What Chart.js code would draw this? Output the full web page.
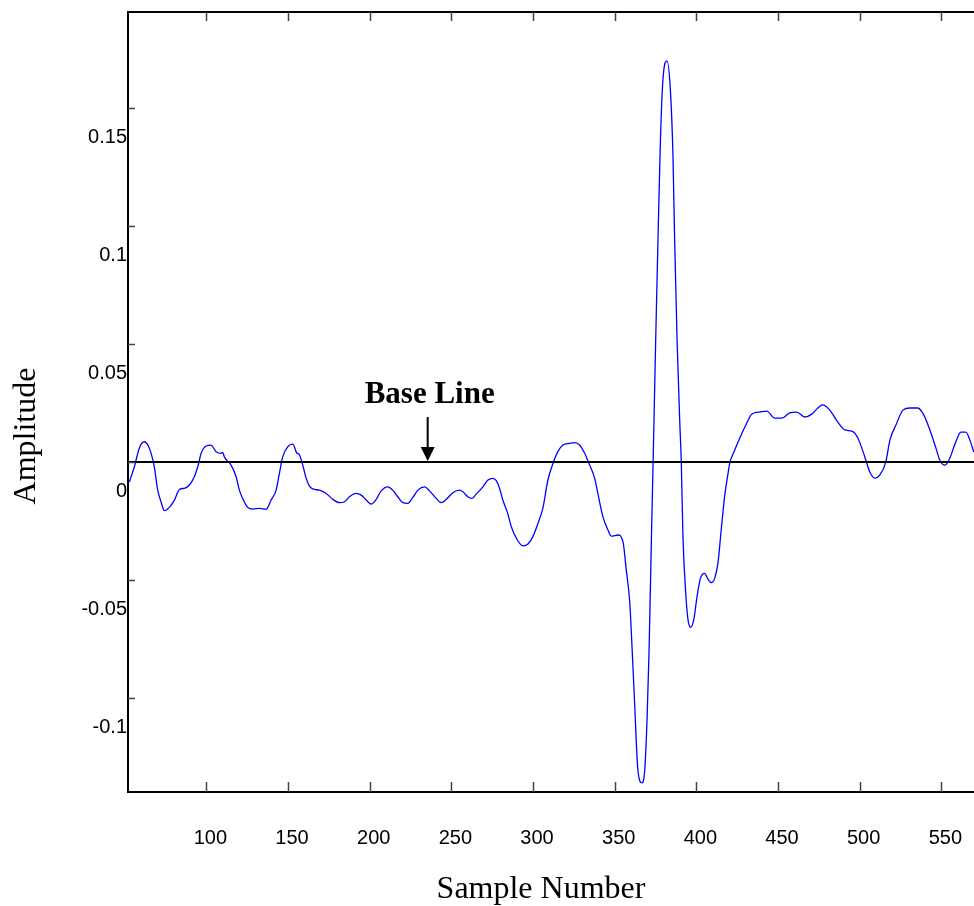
<!DOCTYPE html>
<html>
<head>
<meta charset="utf-8">
<script src="https://cdn.jsdelivr.net/npm/chart.js@4.4.0/dist/chart.umd.min.js"></script>
<style>
  html, body { margin: 0; padding: 0; background: #fff; }
  canvas { display: block; }
</style>
</head>
<body>
<canvas id="myChart" width="974" height="906"></canvas>
<script>
// values
const sampleNumber = [52.8,55.9,58.9,62.0,65.1,68.1,70.2,72.2,74.3,77.3,
  80.4,83.5,86.5,89.6,92.6,94.7,96.8,99.8,102.9,105.9,
  109.0,110.0,111.0,115.1,118.2,120.2,122.2,125.3,128.4,132.5,
  136.6,139.6,142.7,144.7,146.7,149.8,152.9,155.3,157.0,159.0,
  161.1,163.1,165.1,169.2,173.3,177.4,181.5,184.6,187.6,191.7,
  194.8,197.8,200.9,204.0,207.0,211.1,214.1,217.2,220.3,223.3,
  226.4,229.5,233.6,236.6,240.7,243.8,246.9,250.9,255.0,257.0,
  260.1,262.6,265.2,269.3,272.4,275.4,277.5,279.5,281.5,284.2,
  286.7,289.8,293.8,296.9,299.9,303.0,306.0,309.1,312.2,315.2,
  318.3,322.4,325.5,328.5,331.6,334.7,337.7,339.7,342.8,345.9,
  348.0,352.0,355.1,357.1,359.2,360.8,362.2,364.2,366.7,368.4,
  369.8,371.0,372.5,373.5,375.1,376.5,378.0,379.6,382.0,384.1,
  385.7,386.7,388.2,389.8,390.8,391.8,393.5,394.9,396.5,398.4,
  400.4,402.5,405.1,407.2,409.2,411.2,413.2,415.4,417.4,419.4,
  420.4,423.5,426.6,430.3,433.9,438.8,443.1,448.0,452.3,457.1,
  461.5,466.4,470.7,474.4,477.4,481.7,486.6,490.9,495.2,498.9,
  501.3,503.8,506.2,509.3,512.3,516.0,518.5,522.2,526.5,530.7,
  535.6,539.3,543.0,546.7,549.1,552.2,555.2,558.3,562.0,565.0,
  567.5,569.9];

const amplitude = [-0.0085,-0.0020,0.0059,0.0086,0.0058,-0.0020,-0.0119,-0.0168,-0.0206,-0.0192,
  -0.0161,-0.0116,-0.0111,-0.0097,-0.0062,-0.0020,0.0037,0.0068,0.0072,0.0044,
  0.0037,0.0041,0.0022,-0.0013,-0.0062,-0.0119,-0.0154,-0.0192,-0.0199,-0.0196,
  -0.0200,-0.0161,-0.0119,-0.0048,0.0022,0.0065,0.0076,0.0039,0.0030,-0.0013,
  -0.0069,-0.0102,-0.0114,-0.0119,-0.0133,-0.0158,-0.0172,-0.0168,-0.0147,-0.0133,
  -0.0140,-0.0161,-0.0178,-0.0158,-0.0122,-0.0105,-0.0119,-0.0147,-0.0172,-0.0175,
  -0.0150,-0.0119,-0.0105,-0.0122,-0.0154,-0.0172,-0.0158,-0.0130,-0.0119,-0.0126,
  -0.0147,-0.0154,-0.0136,-0.0105,-0.0076,-0.0069,-0.0079,-0.0111,-0.0161,-0.0211,
  -0.0274,-0.0323,-0.0355,-0.0347,-0.0316,-0.0260,-0.0196,-0.0076,-0.0006,0.0044,
  0.0072,0.0079,0.0082,0.0072,0.0037,-0.0013,-0.0068,-0.0133,-0.0232,-0.0288,
  -0.0314,-0.0309,-0.0338,-0.0458,-0.0592,-0.0811,-0.1022,-0.1305,-0.1359,-0.1305,
  -0.1093,-0.0811,-0.0317,-0.0006,0.0517,0.0941,0.1364,0.1626,0.1700,0.1576,
  0.1294,0.0941,0.0517,0.0178,-0.0006,-0.0317,-0.0556,-0.0669,-0.0700,-0.0669,
  -0.0571,-0.0493,-0.0472,-0.0497,-0.0511,-0.0493,-0.0429,-0.0274,-0.0140,-0.0048,
  -0.0006,0.0051,0.0102,0.0157,0.0203,0.0212,0.0216,0.0186,0.0186,0.0208,
  0.0212,0.0191,0.0203,0.0229,0.0242,0.0220,0.0169,0.0136,0.0131,0.0102,
  0.0059,0.0008,-0.0042,-0.0068,-0.0055,0.0000,0.0093,0.0157,0.0220,0.0229,
  0.0229,0.0199,0.0136,0.0059,0.0008,-0.0013,0.0017,0.0076,0.0127,0.0127,
  0.0093,0.0042];

const baseLine = 0;
const xRange = [52, 570];
const yRange = [-0.1398, 0.1907];
const xTicks = [100, 150, 200, 250, 300, 350, 400, 450, 500, 550];
const yTicks = [-0.1, -0.05, 0, 0.05, 0.1, 0.15];
const xTitle = 'Sample Number';
const yTitle = 'Amplitude';
const noteText = 'Base Line';
const noteSample = 235.5;

Chart.defaults.font.family = "'Liberation Sans', Arial, sans-serif";
Chart.defaults.color = '#000';

// frame top, inward ticks, arrow note and axis titles
const extrasPlugin = {
  id: 'extras',
  afterDraw(chart) {
    const {ctx, chartArea: area, scales: {x, y}} = chart;
    ctx.save();
    ctx.strokeStyle = '#000';
    ctx.lineWidth = 2;
    ctx.beginPath();
    ctx.moveTo(area.left, area.top);
    ctx.lineTo(area.right, area.top);
    ctx.stroke();

    ctx.strokeStyle = '#444';
    ctx.lineWidth = 1.5;
    ctx.beginPath();
    xTicks.forEach(v => {
      const px = Math.round(x.getPixelForValue(v)) + 0.5;
      ctx.moveTo(px, area.bottom); ctx.lineTo(px, area.bottom - 10);
      ctx.moveTo(px, area.top); ctx.lineTo(px, area.top + 9);
    });
    yTicks.forEach(v => {
      const py = Math.round(y.getPixelForValue(v)) + 0.5;
      ctx.moveTo(area.left, py); ctx.lineTo(area.left + 7, py);
    });
    ctx.stroke();

    // Base Line arrow
    const ax = x.getPixelForValue(noteSample);
    const tipY = y.getPixelForValue(baseLine) - 1;
    ctx.strokeStyle = '#000';
    ctx.fillStyle = '#000';
    ctx.lineWidth = 2;
    ctx.beginPath();
    ctx.moveTo(ax, tipY - 44);
    ctx.lineTo(ax, tipY - 12);
    ctx.stroke();
    ctx.beginPath();
    ctx.moveTo(ax - 7, tipY - 14);
    ctx.lineTo(ax + 7, tipY - 14);
    ctx.lineTo(ax, tipY);
    ctx.closePath();
    ctx.fill();
    ctx.font = "bold 31px 'Liberation Serif', 'Times New Roman', serif";
    ctx.textAlign = 'center';
    ctx.textBaseline = 'alphabetic';
    ctx.fillText(noteText, ax + 2, tipY - 58);

    // axis titles
    ctx.font = "32px 'Liberation Serif', 'Times New Roman', serif";
    ctx.fillText(xTitle, (area.left + area.right) / 2 - 10, area.bottom + 106);
    ctx.translate(area.left - 93, (area.top + area.bottom) / 2 + 34);
    ctx.rotate(-Math.PI / 2);
    ctx.fillText(yTitle, 0, 0);
    ctx.restore();
  }
};

function drawChart() {
  const ctx = document.getElementById('myChart');
  const points = sampleNumber.map((s, i) => ({x: s, y: amplitude[i]}));
  new Chart(ctx, {
    type: 'line',
    data: {
      datasets: [{
        label: 'base line',
        data: [{x: xRange[0], y: baseLine}, {x: xRange[1], y: baseLine}],
        borderColor: '#000',
        borderWidth: 2,
        pointRadius: 0
      }, {
        label: 'signal',
        data: points,
        borderColor: '#0000ff',
        borderWidth: 1.3,
        pointRadius: 0,
        cubicInterpolationMode: 'monotone'
      }]
    },
    options: {
      responsive: false,
      animation: false,
      layout: { padding: { top: 12, right: 0, left: 0, bottom: 0 } },
      plugins: {
        legend: { display: false },
        tooltip: { enabled: false }
      },
      scales: {
        x: {
          type: 'linear',
          min: xRange[0],
          max: xRange[1],
          grid: { display: false, drawTicks: false },
          border: { display: true, color: '#000', width: 2 },
          ticks: { padding: 34, labelOffset: 4, font: { size: 20 }, maxRotation: 0 },
          afterBuildTicks: scale => { scale.ticks = xTicks.map(v => ({value: v})); },
          afterFit: scale => { scale.height = 114; scale.paddingLeft = 0; scale.paddingRight = 0; }
        },
        y: {
          type: 'linear',
          min: yRange[0],
          max: yRange[1],
          grid: { display: false, drawTicks: false },
          border: { display: true, color: '#000', width: 2 },
          ticks: { padding: 1, labelOffset: 29, font: { size: 20 }, callback: v => String(v) },
          afterBuildTicks: scale => { scale.ticks = yTicks.map(v => ({value: v})); },
          afterFit: scale => { scale.width = 128; scale.paddingTop = 0; scale.paddingBottom = 0; }
        }
      }
    },
    plugins: [extrasPlugin]
  });
}

window.addEventListener('DOMContentLoaded', function () {
  drawChart();
});
</script>
</body>
</html>
